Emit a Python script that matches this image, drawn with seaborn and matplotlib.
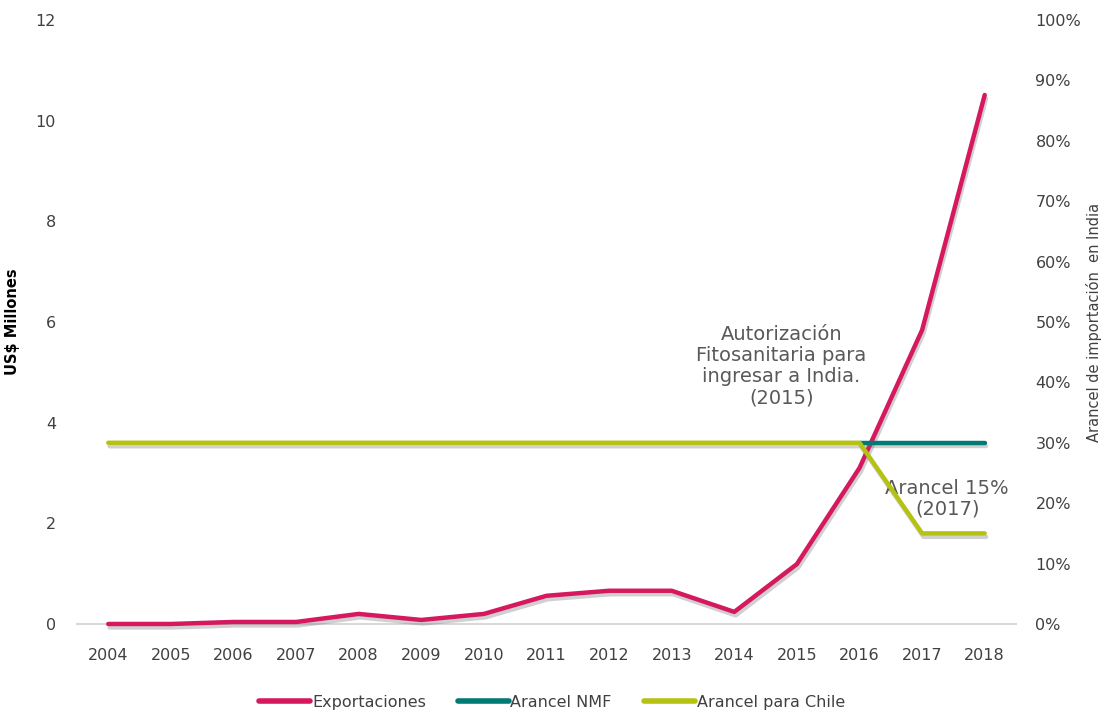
import matplotlib
matplotlib.use("Agg")
import matplotlib.pyplot as plt
import matplotlib.patheffects as pe
from matplotlib.ticker import PercentFormatter
from matplotlib.lines import Line2D
import seaborn as sns
import pandas as pd

years = list(range(2004, 2019))
exportaciones = [0.0, 0.0, 0.04, 0.04, 0.2, 0.08, 0.2, 0.56, 0.66, 0.66, 0.24, 1.19, 3.1, 5.84, 10.51]
nmf_years = [2016, 2017, 2018]
arancel_nmf = [0.30, 0.30, 0.30]
arancel_chile = [0.30] * 13 + [0.15, 0.15]

c_exp = "#D6195E"
c_nmf = "#007A73"
c_chi = "#B5C212"
txt = "#404040"

sns.set_theme(style="white")
plt.rcParams["font.family"] = ["DejaVu Sans"]

fig = plt.figure(figsize=(11.04, 7.11), dpi=100)
ax = fig.add_axes([0.0697, 0.1224, 0.8506, 0.8495])
ax2 = ax.twinx()

shadow = [pe.SimpleLineShadow(offset=(1, -2.5), shadow_color="#666666", alpha=0.3), pe.Normal()]

df_exp = pd.DataFrame({"year": years, "v": exportaciones})
df_nmf = pd.DataFrame({"year": nmf_years, "v": arancel_nmf})
df_chi = pd.DataFrame({"year": years, "v": arancel_chile})

sns.lineplot(data=df_exp, x="year", y="v", ax=ax, color=c_exp, lw=3.2, solid_capstyle="round",
             solid_joinstyle="round", path_effects=shadow, legend=False, clip_on=False, zorder=4)
sns.lineplot(data=df_nmf, x="year", y="v", ax=ax2, color=c_nmf, lw=3.2, solid_capstyle="round",
             path_effects=shadow, legend=False, zorder=2)
sns.lineplot(data=df_chi, x="year", y="v", ax=ax2, color=c_chi, lw=3.2, solid_capstyle="round",
             solid_joinstyle="round", path_effects=shadow, legend=False, zorder=3)

ax.set_xlim(2003.5, 2018.5)
ax.set_ylim(0, 12)
ax2.set_ylim(0, 1.0)
ax.set_xticks(years)
ax.set_xticklabels([str(y) for y in years])
ax.set_yticks(range(0, 13, 2))
ax2.set_yticks([i / 10 for i in range(11)])
ax2.yaxis.set_major_formatter(PercentFormatter(1.0, decimals=0))

for a in (ax, ax2):
    for s in a.spines.values():
        s.set_visible(False)
    a.grid(False)
    a.tick_params(length=0, colors=txt, labelsize=11.5)
ax.spines["bottom"].set_visible(True)
ax.spines["bottom"].set_color("#D9D9D9")
ax.spines["bottom"].set_linewidth(1.5)
ax.tick_params(axis="x", pad=17)
ax.tick_params(axis="y", pad=15)
ax2.tick_params(axis="y", pad=14)

ax.set_xlabel("")
ax.set_ylabel("US$ Millones", fontsize=10.5, color="black", fontweight="bold")
ax.yaxis.set_label_coords(-0.061, 0.5)
ax2.set_ylabel("Arancel de importación  en India", fontsize=10.5, color=txt)
ax2.yaxis.set_label_coords(1.074, 0.5)

ax.text(2014.75, 4.3, "Autorización\nFitosanitaria para\ningresar a India.\n(2015)",
        ha="center", va="bottom", fontsize=14, color="#595959", linespacing=1.15)
ax.text(2017.4, 2.1, "Arancel 15%\n(2017)", ha="center", va="bottom", fontsize=14,
        color="#595959", linespacing=1.1)

handles = [Line2D([], [], color=c_exp, lw=4, solid_capstyle="round"),
           Line2D([], [], color=c_nmf, lw=4, solid_capstyle="round"),
           Line2D([], [], color=c_chi, lw=4, solid_capstyle="round")]
fig.legend(handles, ["Exportaciones", "Arancel NMF", "Arancel para Chile"], loc="center",
           bbox_to_anchor=(0.5, 0.012), ncol=3, frameon=False, handlelength=3.2,
           handletextpad=0.1, columnspacing=2.0, labelcolor=txt, prop={"size": 11.5})

fig.savefig("out.png", dpi=100)
